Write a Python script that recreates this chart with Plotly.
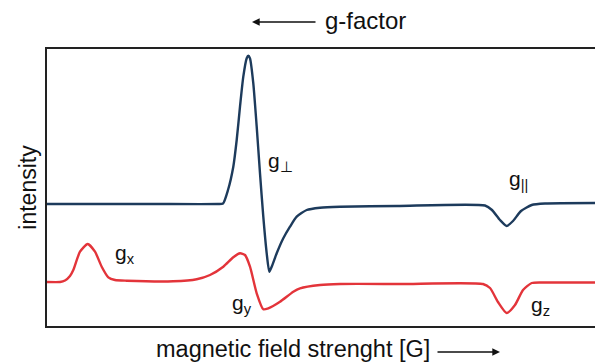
import plotly.graph_objects as go

# field positions (arbitrary units) and intensities
perp_field = [0, 103, 171, 176, 181, 186.3, 189.7, 193, 196.3, 199.7, 201.3, 203, 206.3, 209.7,
              213, 216.3, 219.7, 222.3, 224.7, 229.7, 236.3, 243, 249.7, 259.7, 273, 293, 350,
              438, 445, 453, 459.7, 466, 474, 484.7, 498, 556]
perp_int = [122, 122, 122, 122.5, 136, 159.3, 186, 219.3, 249.3, 267.7, 270.3, 267.7, 242.7, 199.3,
            152.7, 109.3, 72.7, 54.3, 59.3, 72.7, 87.7, 99.3, 109.3, 116, 118.3, 119.3, 120,
            120.5, 116, 106, 100, 105, 115, 121, 122.5, 123]

rhom_field = [0, 13, 18, 23, 26.3, 33, 40.7, 48, 54.7, 61.3, 68, 79.7, 126.3, 149.7, 163, 176.3,
              186.3, 193, 198, 203, 209.7, 216.3, 221.3, 233, 246.3, 253, 273, 293, 353, 436, 443,
              451, 459.7, 468, 476, 484.7, 498, 556]
rhom_int = [44, 44, 45.5, 50, 56, 74.3, 82, 74.3, 59.3, 48.7, 46, 45.3, 44.7, 46.7, 51, 59.3,
            68.7, 72.7, 71, 59.3, 32.7, 16.7, 17.7, 24.3, 34.3, 37.7, 41, 42, 42, 42, 38, 24,
            13, 21, 36, 43, 43.5, 43.5]

labels = ["g<sub>⊥</sub>", "g<sub>||</sub>", "g<sub>x</sub>", "g<sub>y</sub>", "g<sub>z</sub>"]
label_x = [233, 471, 78, 195, 493]
label_y = [164, 146, 72, 22, 20]

BLUE = "#1d3b5c"
RED = "#e3343a"
FONT = "Liberation Sans, Arial, sans-serif"

fig = go.Figure()
fig.add_trace(go.Scatter(x=perp_field, y=perp_int, mode="lines",
                         line=dict(color=BLUE, width=2.4, shape="spline", smoothing=0.6),
                         hoverinfo="skip"))
fig.add_trace(go.Scatter(x=rhom_field, y=rhom_int, mode="lines",
                         line=dict(color=RED, width=2.4, shape="spline", smoothing=0.6),
                         hoverinfo="skip"))

for t, lx, ly in zip(labels, label_x, label_y):
    fig.add_annotation(x=lx, y=ly, xref="x", yref="y", text=t, showarrow=False,
                       font=dict(family=FONT, size=21, color="#111"))

# top "g-factor" with arrow pointing left
fig.add_annotation(x=(252 - 47) / 556, y=(326 - 22) / 277, xref="paper", yref="paper", text="",
                   showarrow=True, ax=65, ay=0, arrowhead=2, arrowsize=1.1,
                   arrowwidth=1.4, arrowcolor="#111")
fig.add_annotation(x=(323 - 47) / 556, y=(326 - 21) / 277, xref="paper", yref="paper",
                   text="g-factor", showarrow=False, xanchor="left", yanchor="middle",
                   font=dict(family=FONT, size=24, color="#111"))

# bottom title with arrow pointing right
fig.add_annotation(x=(432 - 47) / 556, y=(326 - 349) / 277, xref="paper", yref="paper",
                   text="magnetic field strenght [G]", showarrow=False, xanchor="right",
                   yanchor="middle", font=dict(family=FONT, size=23.5, color="#111"))
fig.add_annotation(x=(500 - 47) / 556, y=(326 - 352) / 277, xref="paper", yref="paper", text="",
                   showarrow=True, ax=-64, ay=0, arrowhead=2, arrowsize=1.1,
                   arrowwidth=1.4, arrowcolor="#111")

# page body has an 8px margin, so the figure is sized/offset to land at the reference pixels
fig.update_layout(
    width=595, height=354,
    margin=dict(l=39, r=0, t=41, b=36),
    paper_bgcolor="white", plot_bgcolor="white",
    showlegend=False,
    font=dict(family=FONT, size=22, color="#111"),
    xaxis=dict(range=[0, 556], showgrid=False, zeroline=False, showticklabels=False,
               ticks="", showline=True, mirror=True, linecolor="#222", linewidth=2),
    yaxis=dict(range=[0, 277], showgrid=False, zeroline=False, showticklabels=False,
               ticks="", showline=True, linecolor="#222", linewidth=2,
               title=dict(text="intensity", standoff=2, font=dict(family=FONT, size=23, color="#111"))),
)

fig.write_html("out.html")
